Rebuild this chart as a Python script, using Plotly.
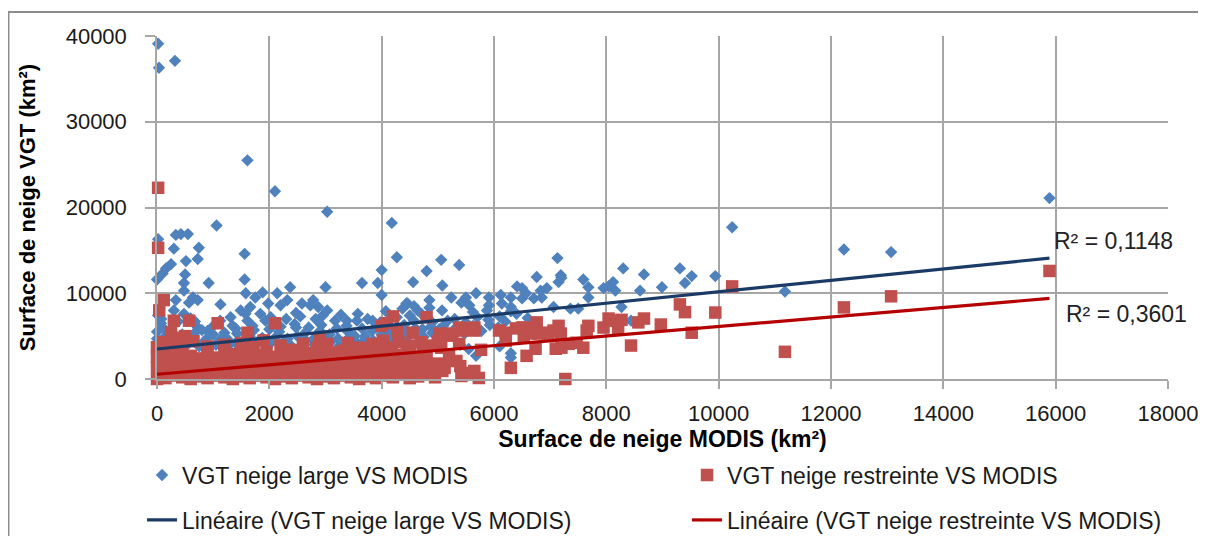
import plotly.graph_objects as go

# ---------------- data ----------------
# (MODIS km², VGT km²) pairs
large_pts = [
    (20, 39100), (35, 36300), (320, 37100), (1610, 25500), (2100, 21900), (3030, 19500), (4180, 18200), (1060, 17900),
    (550, 16900), (425, 16900), (335, 16800), (20, 16300), (1560, 14600), (4270, 14200), (745, 15300), (300, 15200),
    (725, 14000), (515, 13750), (250, 13400), (160, 12900), (5060, 13900), (5380, 13300), (4800, 12600), (4000, 12700),
    (0, 11600), (100, 12300), (500, 12200), (480, 11200), (920, 11200), (1560, 11600), (2370, 10700), (3000, 10700),
    (3650, 11200), (3930, 11200), (4560, 11300), (5080, 10900),
    (480, 10300), (640, 9500), (725, 9200), (570, 8900), (1580, 10000), (1750, 9500), (1660, 8400), (1880, 10100),
    (2140, 10000), (1980, 8800), (2200, 8600), (2320, 9200), (2580, 8800), (2780, 9200), (2870, 8400), (3030, 8000),
    (335, 9200), (300, 8000), (4000, 9800), (5240, 9500), (4850, 9200), (4460, 8800), (4370, 8200), (4640, 8000),
    (4850, 8300), (5420, 8900), (5560, 8600), (5500, 9500), (5680, 10000), (5910, 9500), (5910, 8600), (6120, 9800),
    (6140, 8800), (6300, 9500), (6410, 10800), (6500, 9400), (6300, 8400), (4440, 8800), (1130, 8700), (2730, 8600),
    (20, 7400), (70, 6500), (480, 7600), (600, 7050), (725, 6000), (900, 5600), (1310, 7200), (1345, 6200),
    (1490, 8000), (1610, 6800), (1840, 7600), (1930, 6800), (3170, 6800), (3380, 6800), (3560, 6800), (3750, 7000),
    (3840, 6800), (4270, 7200), (4500, 7400), (4710, 7600), (0, 5500), (100, 6000), (800, 5700), (1000, 5200),
    (1200, 5400), (1400, 5900), (1700, 6200), (2000, 5800), (2200, 6100), (2450, 6400), (2700, 6000), (2900, 5600),
    (3200, 5900), (3400, 5500), (3650, 5900), (3900, 6000), (4100, 5500), (4400, 6300), (4600, 5900), (4900, 6600),
    (5100, 6200), (5300, 7000), (5500, 6600), (5700, 7200), (5900, 6900), (6100, 7300), (6200, 6700), (6400, 7600),
    (6600, 7100), (2550, 7300), (2300, 7000), (2950, 7400),
    (75, 7000), (375, 6700), (675, 6700), (1125, 6800), (1575, 7600), (2025, 7200), (2475, 7700), (2825, 7000),
    (3275, 7500), (3575, 7600), (4075, 7900), (4575, 8500), (5075, 8000), (5625, 7800), (5875, 8000), (6300, 7900),
    (0, 3000), (0, 4000), (0, 4700), (150, 3500), (150, 5000), (300, 4200), (450, 3600), (450, 5200),
    (600, 4500), (750, 3800), (900, 4800), (1050, 4000), (1200, 3500), (1250, 4700), (1400, 4200), (1550, 3700),
    (1650, 5000), (1800, 4400), (1950, 3900), (2100, 4800), (2250, 4300), (2400, 3800), (2500, 5000), (2650, 4500),
    (2800, 4000), (2950, 4900), (3100, 4400), (3250, 3900), (3400, 4700), (3550, 4300), (3700, 5000), (3850, 4500),
    (4000, 5200), (4150, 4600), (4300, 5100), (4450, 4800), (4600, 5300), (4750, 4900), (4900, 5400), (5050, 4700),
    (75, 4300), (225, 5600), (375, 4800), (525, 3900), (675, 5400), (825, 4300), (975, 6000), (1125, 4600),
    (1275, 3900), (1425, 5300), (1575, 4500), (1725, 5700), (1875, 4800), (2025, 4200), (2175, 5500), (2325, 4700),
    (2475, 6000), (2625, 5300), (2775, 4600), (2925, 6300), (3075, 5200), (3225, 4700), (3375, 6200), (3525, 5000),
    (3675, 4400), (3825, 5600), (3975, 6600), (4125, 5000), (4275, 6100), (4425, 5600), (4575, 6800), (4725, 5800),
    (4875, 6100), (5025, 5800), (5175, 6800), (5325, 6000), (5475, 5300), (5625, 6200), (5775, 5600), (5925, 6300),
    (6075, 6000), (6225, 5200),
    (0, 1500), (0, 2300), (30, 800), (5400, 4000), (5550, 3500), (6100, 3800), (6300, 3000), (5680, 2700), (6300, 2500),
    (7130, 14100), (7190, 12100), (7150, 11300), (7200, 11800), (6760, 11900), (7590, 11600), (7680, 10700), (6500, 10600),
    (6570, 10000), (6710, 9400), (6830, 10300), (6940, 10600), (6850, 9500), (7680, 9500), (7950, 10600), (8040, 10800),
    (8160, 10300), (8120, 11300), (8300, 12900), (8600, 10300), (8670, 12200), (8990, 10700), (9310, 12900), (9400, 11200),
    (9520, 12000), (9940, 12000), (8270, 8400), (7060, 8400), (7360, 8200), (7500, 8200), (8440, 6800),
    (10240, 17700), (11180, 10200), (12230, 15100), (13070, 14800), (15890, 21100),
]

restreinte_pts = [
    (20, 22300), (20, 15300), (120, 9200), (40, 8000), (300, 6800), (570, 6800), (1080, 6500), (2100, 6500),
    (1610, 5400), (250, 5400), (300, 4800), (70, 3650), (120, 3060), (420, 3650),
    (4200, 7300), (4800, 7200), (4090, 6500), (4280, 5650), (4550, 5400), (4000, 6200), (5060, 5050), (5260, 5050),
    (5430, 5650), (5650, 5650), (5030, 5300), (5200, 5300), (5380, 6000), (5500, 5900), (5650, 6000), (5060, 3650),
    (5380, 4100), (5770, 3400), (6090, 5650), (6210, 5400), (6390, 5900), (6530, 6000), (6210, 4470), (6570, 5400),
    (6740, 6000), (6300, 1300), (5610, 700), (5730, 120), (5420, 350), (5650, 940), (5330, 2100), (5120, 1300),
    (4710, 700), (4890, 700), (5080, 940), (4500, 3900), (4730, 3300), (4850, 3900), (3840, 4100), (4020, 4470),
    (4180, 3650), (3310, 3300), (3560, 3650), (3730, 3300), (4700, 4300), (5000, 4400), (4300, 4300),
    (9310, 8700), (9400, 7800), (9940, 7750), (9520, 5400), (8970, 6350), (8440, 3900), (7270, 0), (8570, 6600),
    (8670, 7050), (8040, 7050), (7950, 6000), (8160, 6800), (8270, 6900), (8210, 5900), (7680, 6200), (7650, 5650),
    (7590, 3650), (7470, 4230), (7330, 4100), (7150, 6200), (7190, 5300), (7100, 3530), (7200, 3650), (7060, 5650),
    (6760, 6600), (6800, 5300), (6740, 3530), (6580, 2700), (6890, 5400), (6970, 5300), (6500, 6000), (6530, 5050),
    (6650, 5300),
    (10240, 10800), (11180, 3170), (12230, 8350), (13070, 9640), (15890, 12600),
    (0, 0), (50, 300), (150, 100), (300, 400), (450, 200), (600, 0), (750, 300), (900, 100),
    (1050, 400), (1200, 200), (1350, 0), (1500, 300), (1650, 100), (1800, 400), (1950, 200), (2100, 0),
    (2250, 300), (2400, 100), (2550, 400), (2700, 200), (2850, 0), (3000, 300), (3150, 100), (3300, 400),
    (3450, 200), (3600, 0), (3750, 300), (3900, 100), (4050, 400), (4200, 200), (4350, 500), (4500, 100),
    (4650, 300), (4800, 600), (4950, 200),
    (75, 800), (225, 700), (375, 900), (525, 700), (675, 900), (825, 700), (975, 900), (1125, 700),
    (1275, 900), (1425, 700), (1575, 900), (1725, 700), (1875, 900), (2025, 700), (2175, 900), (2325, 700),
    (2475, 900), (2625, 700), (2775, 900), (2925, 700), (3075, 900), (3225, 700), (3375, 900), (3525, 700),
    (3675, 900), (3825, 700), (3975, 900), (4125, 800), (4275, 1000), (4425, 800), (4575, 600), (4725, 1000),
    (0, 1400), (100, 1200), (250, 1500), (400, 1300), (550, 1600), (700, 1200), (850, 1500), (1000, 1300),
    (1150, 1600), (1300, 1200), (1450, 1500), (1600, 1300), (1750, 1600), (1900, 1200), (2050, 1500), (2200, 1300),
    (2350, 1600), (2500, 1200), (2650, 1500), (2800, 1300), (2950, 1700), (3100, 1400), (3250, 1600), (3400, 1300),
    (3550, 1800), (3700, 1500), (3850, 1700), (4000, 1400), (4200, 1900), (4400, 1600), (4600, 2000), (4800, 1700),
    (75, 2100), (225, 2000), (375, 2200), (525, 2000), (675, 2200), (825, 2000), (975, 2200), (1125, 2000),
    (1275, 2200), (1425, 2000), (1575, 2200), (1725, 2000), (1875, 2200), (2025, 2100), (2175, 2300), (2325, 2100),
    (2475, 2300), (2625, 2100), (2775, 2400), (2925, 2200), (3075, 2400), (3225, 2200), (3375, 2500), (3525, 2300),
    (3675, 2500), (3825, 2300), (3975, 2600), (4125, 2400),
    (0, 2600), (150, 2900), (300, 2500), (450, 3100), (600, 2700), (750, 2400), (900, 2800), (1050, 2500),
    (1200, 2900), (1350, 2600), (1500, 3000), (1650, 2400), (1800, 2800), (1950, 3200), (2100, 2600), (2250, 2900),
    (2400, 3400), (2550, 2700), (2700, 3000), (2850, 3300), (3000, 2800), (3150, 3100), (3300, 2600), (3450, 3400),
    (3600, 2900), (3750, 3600), (3900, 3000), (4050, 3300), (4250, 2800), (4450, 3100), (4650, 2600),
    (0, 3700), (100, 4300), (300, 3900), (500, 5000), (650, 4400), (900, 3800), (1200, 4000), (1500, 4200),
    (1700, 3700), (1900, 4500), (2200, 3900), (2600, 4100), (2900, 4600), (3000, 3900), (3400, 4200), (1300, 2900),
    (1490, 3000), (1720, 3300), (2550, 3300), (2850, 3650), (3030, 4100),
    (4000, 2300), (4200, 1200), (4400, 2600), (4600, 1100), (4800, 2900), (5000, 1800), (5200, 2700), (5400, 1500),
]

# Linear trend lines (end points)
trend_x = [0, 15890]
large_trend_y = [3500, 14100]
restreinte_trend_y = [550, 9400]

r2_large = "R² = 0,1148"
r2_restreinte = "R² = 0,3601"

x_ticks = [0, 2000, 4000, 6000, 8000, 10000, 12000, 14000, 16000, 18000]
y_ticks = [0, 10000, 20000, 30000, 40000]

name_large = "VGT neige large VS MODIS"
name_restreinte = "VGT neige restreinte VS MODIS"
name_lin_large = "Linéaire (VGT neige large VS MODIS)"
name_lin_restreinte = "Linéaire (VGT neige restreinte VS MODIS)"
x_title = "Surface de neige MODIS (km²)"
y_title = "Surface de neige VGT (km²)"

# ---------------- figure ----------------
FONT = "Liberation Sans"
GRID = "#a6a6a6"

fig = go.Figure()
fig.add_trace(go.Scatter(
    x=[p[0] for p in large_pts], y=[p[1] for p in large_pts],
    mode="markers", name=name_large, cliponaxis=False,
    marker=dict(symbol="diamond", size=9.5, color="#4F81BD", line=dict(width=0)),
    legend="legend",
))
fig.add_trace(go.Scatter(
    x=[p[0] for p in restreinte_pts], y=[p[1] for p in restreinte_pts],
    mode="markers", name=name_restreinte, cliponaxis=False,
    marker=dict(symbol="square", size=12.5, color="#C0504D", line=dict(width=0)),
    legend="legend",
))
fig.add_trace(go.Scatter(
    x=trend_x, y=large_trend_y, mode="lines", name=name_lin_large,
    line=dict(color="#1B3A66", width=3.2), legend="legend2",
))
fig.add_trace(go.Scatter(
    x=trend_x, y=restreinte_trend_y, mode="lines", name=name_lin_restreinte,
    line=dict(color="#B40000", width=3.2), legend="legend2",
))

fig.add_annotation(x=15940, y=16100, xref="x", yref="y", text=r2_large, showarrow=False,
                   xanchor="left", yanchor="middle", font=dict(family=FONT, size=23, color="#222222"))
fig.add_annotation(x=16150, y=7530, xref="x", yref="y", text=r2_restreinte, showarrow=False,
                   xanchor="left", yanchor="middle", font=dict(family=FONT, size=23, color="#222222"))

# outer chart border
fig.add_shape(type="rect", xref="paper", yref="paper",
              x0=-0.1469, x1=1.0307, y0=-0.47, y1=1.070,
              line=dict(color="#8c8c8c", width=2), fillcolor="rgba(0,0,0,0)", layer="below")

legend_common = dict(
    orientation="h", xanchor="left", yanchor="middle",
    bgcolor="rgba(0,0,0,0)", borderwidth=0,
    font=dict(family=FONT, size=23, color="#1a1a1a"),
    entrywidthmode="pixels", entrywidth=500,
    itemclick=False, itemdoubleclick=False,
)

fig.update_layout(
    width=1198, height=528,
    margin=dict(l=149, r=38, t=28, b=157, autoexpand=False),
    paper_bgcolor="white", plot_bgcolor="white",
    font=dict(family=FONT, color="#1a1a1a"),
    showlegend=True,
    legend=dict(x=-0.0148, y=-0.28, **legend_common),
    legend2=dict(x=-0.0148, y=-0.411, **legend_common),
    xaxis=dict(
        range=[0, 18000], tickmode="array", tickvals=x_ticks, tickformat="d",
        showgrid=True, gridcolor=GRID, gridwidth=1.5,
        showline=True, linecolor=GRID, linewidth=1.5,
        ticks="outside", ticklen=8, tickcolor=GRID, tickwidth=1.5,
        tickfont=dict(family=FONT, size=22, color="#1a1a1a"),
        ticklabelstandoff=6,
        zeroline=False,
        title=dict(text=x_title, standoff=2, font=dict(family=FONT, size=23, color="#000000", weight="bold")),
    ),
    yaxis=dict(
        range=[0, 40000], tickmode="array", tickvals=y_ticks, tickformat="d",
        showgrid=True, gridcolor=GRID, gridwidth=1.5,
        showline=True, linecolor=GRID, linewidth=1.5,
        ticks="outside", ticklen=10, tickcolor=GRID, tickwidth=1.5,
        tickfont=dict(family=FONT, size=22, color="#1a1a1a"),
        ticklabelstandoff=14,
        zeroline=False,
        title=dict(text=y_title, standoff=24, font=dict(family=FONT, size=22, color="#000000", weight="bold")),
    ),
)

fig.write_html("out.html")
